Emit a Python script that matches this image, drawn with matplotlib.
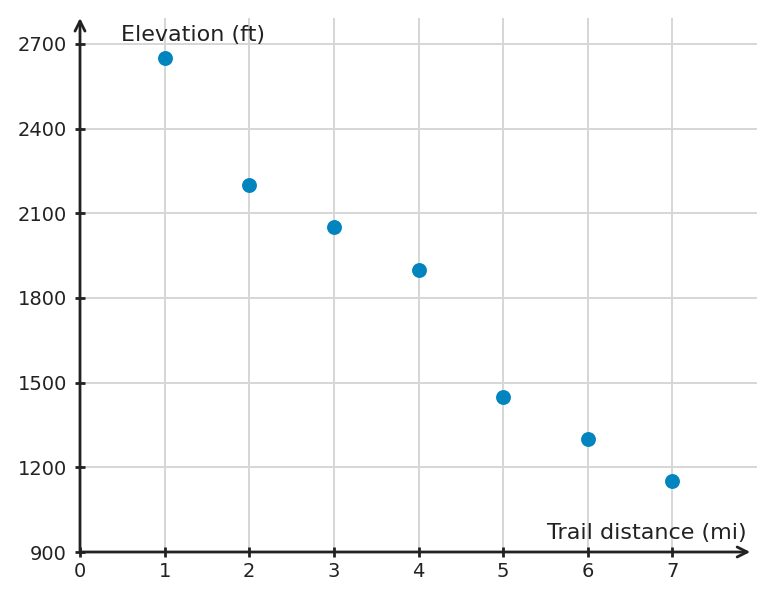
import matplotlib
matplotlib.use("Agg")
import matplotlib.pyplot as plt

distance_mi = [1, 2, 3, 4, 5, 6, 7]
elevation_ft = [2650, 2200, 2050, 1900, 1450, 1300, 1150]
x_ticks = [0, 1, 2, 3, 4, 5, 6, 7]
y_ticks = [900, 1200, 1500, 1800, 2100, 2400, 2700]

W, H = 775, 601
fig = plt.figure(figsize=(W / 100, H / 100), dpi=100)
left, right, bottom, top = 80, 757, 552, 18
ax = fig.add_axes([left / W, (H - bottom) / H, (right - left) / W, (bottom - top) / H])

ax.set_xlim(0, 8)
ax.set_ylim(900, 2792)

dark = "#222222"
grid = "#d6d6d6"

for x in x_ticks[1:]:
    ax.axvline(x, color=grid, lw=1.4, zorder=0)
for y in y_ticks[1:]:
    ax.axhline(y, color=grid, lw=1.4, zorder=0)

ax.scatter(distance_mi, elevation_ft, s=115, color="#0284bf", zorder=3, linewidths=0)

for s in ax.spines.values():
    s.set_visible(False)

ax.annotate("", xy=(0.99, 0), xytext=(0, 0), xycoords="axes fraction",
            arrowprops=dict(arrowstyle="->", color=dark, lw=2, mutation_scale=18,
                            shrinkA=0, shrinkB=0))
ax.annotate("", xy=(0, 1.0), xytext=(0, 0), xycoords="axes fraction",
            arrowprops=dict(arrowstyle="->", color=dark, lw=2, mutation_scale=18,
                            shrinkA=0, shrinkB=0))

ax.set_xticks(x_ticks)
ax.set_yticks(y_ticks)
ax.set_xticklabels([str(v) for v in x_ticks])
ax.set_yticklabels([str(v) for v in y_ticks])
ax.tick_params(axis="both", direction="inout", length=7, width=2, color=dark,
               labelcolor=dark, labelsize=14)
ax.tick_params(axis="x", pad=4)
ax.tick_params(axis="y", pad=6)

ax.text(0.48, 2730, "Elevation (ft)", fontsize=16, color=dark, ha="left", va="center")
ax.text(7.88, 968, "Trail distance (mi)", fontsize=16, color=dark, ha="right", va="center")

fig.savefig("out.png", dpi=100)
